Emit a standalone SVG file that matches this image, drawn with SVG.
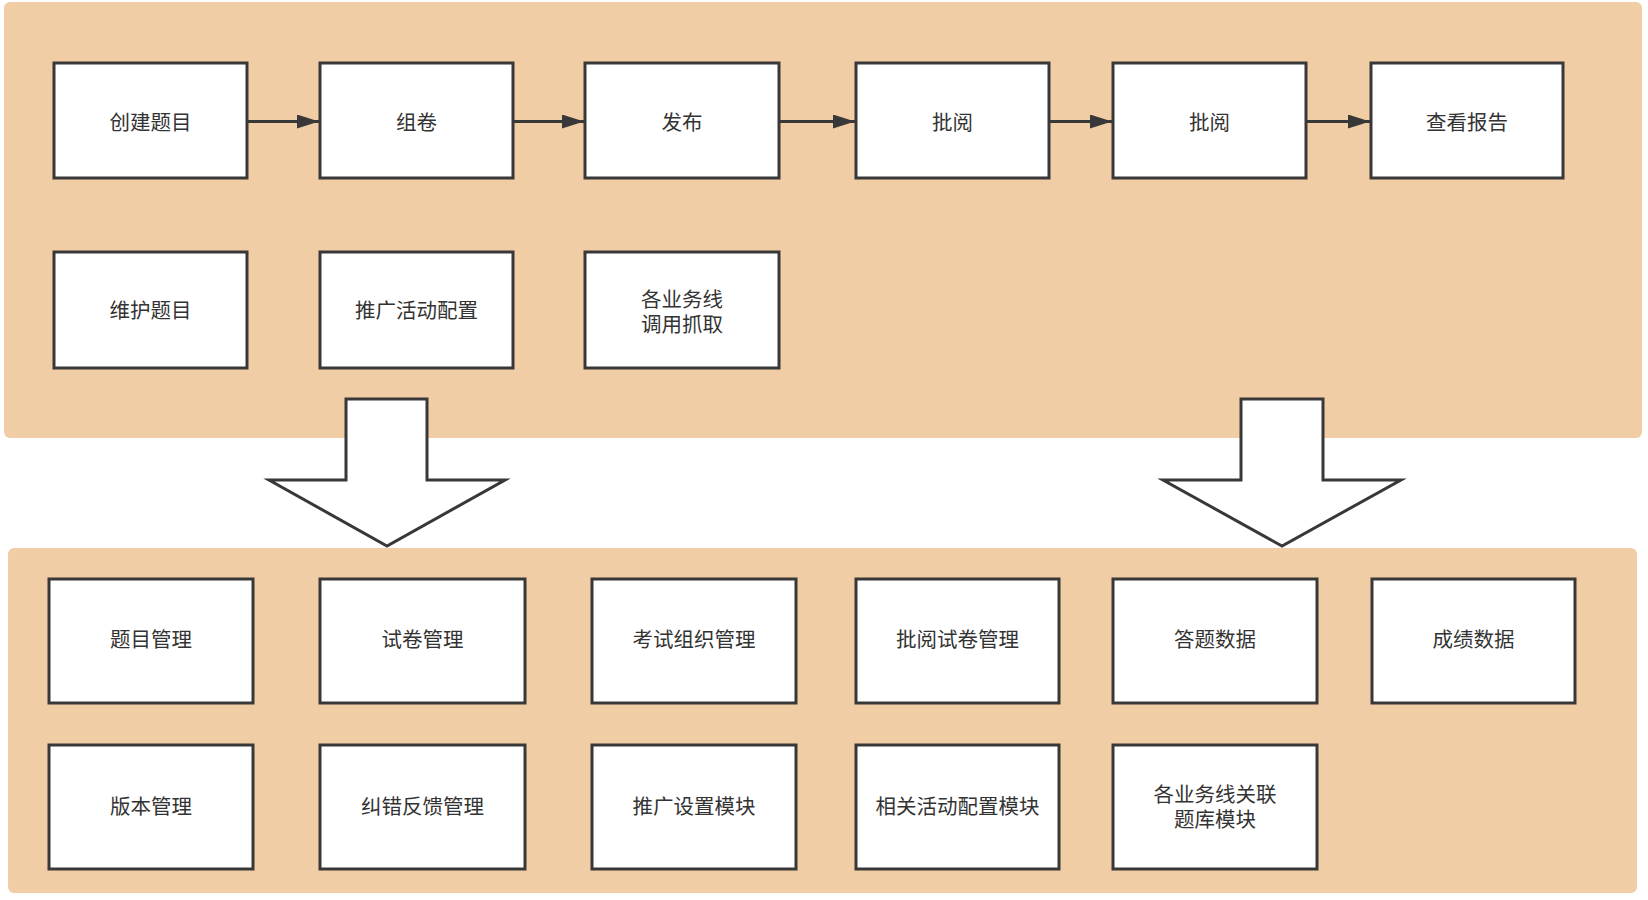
<svg xmlns="http://www.w3.org/2000/svg" width="1648" height="900" viewBox="0 0 1648 900">
<defs>
<style>
.panel{fill:#F1CDA6;stroke:none}
.box{fill:#ffffff;stroke:#383838;stroke-width:3}
.big{fill:#ffffff;stroke:#383838;stroke-width:3;stroke-linejoin:miter}
.t{font-family:"Noto Sans CJK SC","Noto Sans",sans-serif;font-size:20.5px;fill:#333333;text-anchor:middle;dominant-baseline:central}
.ln{stroke:#383838;stroke-width:3;fill:none}
</style>
<marker id="ah" viewBox="0 0 22 14" refX="22" refY="7" markerWidth="22" markerHeight="14" markerUnits="userSpaceOnUse" orient="auto">
<path d="M0,0 L22,7 L0,14 Z" fill="#383838"/>
</marker>
</defs>
<rect width="1648" height="900" fill="#ffffff"/>
<g id="panels">
<rect id="panel-top" class="panel" x="4" y="2" width="1638" height="436" rx="6"/>
<rect id="panel-bottom" class="panel" x="8" y="548" width="1629" height="345" rx="6"/>
</g>
<g id="connectors">
<line class="ln" x1="248" y1="121.5" x2="319" y2="121.5" marker-end="url(#ah)"/>
<line class="ln" x1="514" y1="121.5" x2="584" y2="121.5" marker-end="url(#ah)"/>
<line class="ln" x1="779" y1="121.5" x2="855" y2="121.5" marker-end="url(#ah)"/>
<line class="ln" x1="1050" y1="121.5" x2="1112" y2="121.5" marker-end="url(#ah)"/>
<line class="ln" x1="1307" y1="121.5" x2="1370" y2="121.5" marker-end="url(#ah)"/>
<polygon id="bigarrow-left" class="big" points="346,399 427,399 427,480 505,480 387,546 269,480 346,480"/>
<polygon id="bigarrow-right" class="big" points="1241,399 1323,399 1323,480 1401,480 1282,546 1163,480 1241,480"/>
</g>
<g id="n1"><rect class="box" x="54" y="63" width="193" height="115"/><text class="t" x="150.5" y="120.5">创建题目</text></g>
<g id="n2"><rect class="box" x="320" y="63" width="193" height="115"/><text class="t" x="416.5" y="120.5">组卷</text></g>
<g id="n3"><rect class="box" x="585" y="63" width="194" height="115"/><text class="t" x="682" y="120.5">发布</text></g>
<g id="n4"><rect class="box" x="856" y="63" width="193" height="115"/><text class="t" x="952.5" y="120.5">批阅</text></g>
<g id="n5"><rect class="box" x="1113" y="63" width="193" height="115"/><text class="t" x="1209.5" y="120.5">批阅</text></g>
<g id="n6"><rect class="box" x="1371" y="63" width="192" height="115"/><text class="t" x="1467" y="120.5">查看报告</text></g>
<g id="n7"><rect class="box" x="54" y="252" width="193" height="116"/><text class="t" x="150.5" y="309">维护题目</text></g>
<g id="n8"><rect class="box" x="320" y="252" width="193" height="116"/><text class="t" x="416.5" y="309">推广活动配置</text></g>
<g id="n9"><rect class="box" x="585" y="252" width="194" height="116"/><text class="t" x="682" y="297.5"><tspan x="682" y="297.5">各业务线</tspan><tspan x="682" y="322.5">调用抓取</tspan></text></g>
<g id="m1"><rect class="box" x="49" y="579" width="204" height="124"/><text class="t" x="151" y="638">题目管理</text></g>
<g id="m2"><rect class="box" x="320" y="579" width="205" height="124"/><text class="t" x="422.5" y="638">试卷管理</text></g>
<g id="m3"><rect class="box" x="592" y="579" width="204" height="124"/><text class="t" x="694" y="638">考试组织管理</text></g>
<g id="m4"><rect class="box" x="856" y="579" width="203" height="124"/><text class="t" x="957.5" y="638">批阅试卷管理</text></g>
<g id="m5"><rect class="box" x="1113" y="579" width="204" height="124"/><text class="t" x="1215" y="638">答题数据</text></g>
<g id="m6"><rect class="box" x="1372" y="579" width="203" height="124"/><text class="t" x="1473.5" y="638">成绩数据</text></g>
<g id="m7"><rect class="box" x="49" y="745" width="204" height="124"/><text class="t" x="151" y="804.5">版本管理</text></g>
<g id="m8"><rect class="box" x="320" y="745" width="205" height="124"/><text class="t" x="422.5" y="804.5">纠错反馈管理</text></g>
<g id="m9"><rect class="box" x="592" y="745" width="204" height="124"/><text class="t" x="694" y="804.5">推广设置模块</text></g>
<g id="m10"><rect class="box" x="856" y="745" width="203" height="124"/><text class="t" x="957.5" y="804.5">相关活动配置模块</text></g>
<g id="m11"><rect class="box" x="1113" y="745" width="204" height="124"/><text class="t" x="1215" y="793"><tspan x="1215" y="793">各业务线关联</tspan><tspan x="1215" y="818">题库模块</tspan></text></g>
</svg>
